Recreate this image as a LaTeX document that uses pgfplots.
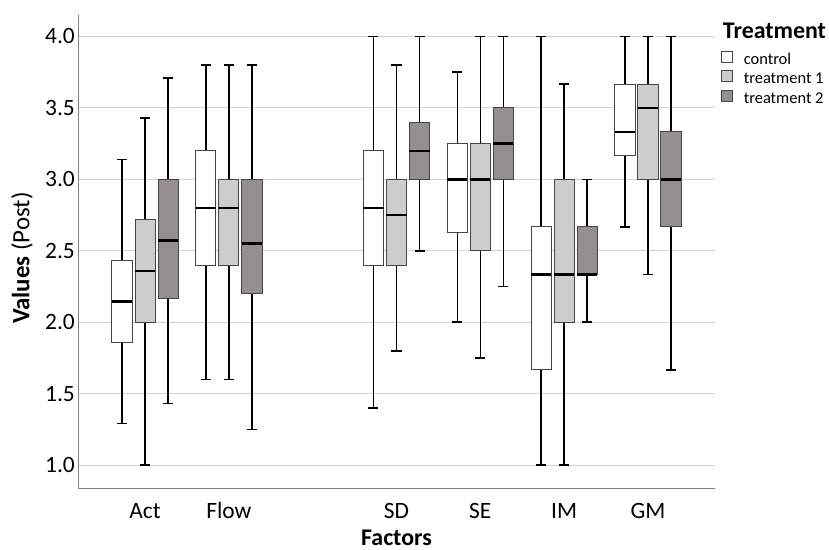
\documentclass[border=0pt]{standalone}
\usepackage{fontspec}
\setmainfont{Carlito}
\usepackage{pgfplots}
\usepgfplotslibrary{statistics}
\pgfplotsset{compat=1.18}
\definecolor{tone}{RGB}{205,205,205}
\definecolor{ttwo}{RGB}{150,143,143}
\definecolor{boxedge}{RGB}{70,70,70}
\definecolor{gridc}{RGB}{212,212,212}
\definecolor{axisc}{RGB}{128,128,128}
% \bx{style}{position}{lower whisker}{lower quartile}{median}{upper quartile}{upper whisker}
\newcommand{\bx}[7]{\addplot[forget plot, #1, boxplot prepared={draw direction=y, draw position=#2, lower whisker=#3, lower quartile=#4, median=#5, upper quartile=#6, upper whisker=#7}] coordinates {};}
\begin{document}
\begin{tikzpicture}
\useasboundingbox (0,0) rectangle (829bp,-550bp);
\begin{axis}[
  name=main,
  at={(78bp,-488bp)}, anchor=south west,
  scale only axis, width=637bp, height=473bp,
  xmin=-0.8, xmax=6.8, ymin=0.84, ymax=4.15,
  clip=false,
  axis x line=bottom, axis y line=left,
  axis line style={-, draw=axisc, line width=1bp},
  xtick={0,1,3,4,5,6},
  xticklabels={Act,Flow,SD,SE,IM,GM},
  ytick={1,1.5,2,2.5,3,3.5,4},
  major tick length=0pt,
  /pgf/number format/assume math mode=true,
  yticklabel style={/pgf/number format/fixed, /pgf/number format/fixed zerofill, /pgf/number format/precision=1, anchor=east, inner sep=0pt, xshift=-3bp},
  xticklabel style={anchor=north, inner sep=0pt, text height=15bp, text depth=0pt, yshift=-15bp},
  tick label style={font=\fontsize{23.5}{24}\selectfont},
  ymajorgrids, grid style={draw=gridc, line width=1.2bp},
  boxplot/box extend=0.24,
  boxplot/whisker extend=0.12,
  boxplot/every box/.style={draw=boxedge, line width=0.9bp},
  boxplot/every whisker/.style={draw=black, line width=1.5bp},
  boxplot/every median/.style={draw=black, line width=2.5bp},
  ctrl/.style={draw=boxedge, fill=white},
  tA/.style={draw=boxedge, fill=tone},
  tB/.style={draw=boxedge, fill=ttwo},
  legend image code/.code={\draw[#1, line width=0.8bp] (0bp,-2bp) rectangle (11bp,9bp);},
  legend style={at={(axis description cs:1.0094,0.9239)}, anchor=north west, draw=none, fill=none,
    inner sep=0pt, outer sep=0pt, row sep=2bp, column sep=11bp,
    nodes={inner sep=0pt, text height=12bp, text depth=4bp},
    cells={anchor=west},
    font=\fontsize{16.5}{17}\selectfont},
]
% Act
\bx{ctrl}{-0.275}{1.29}{1.86}{2.145}{2.43}{3.14}
\bx{tA}{0}{1.0}{2.0}{2.357}{2.717}{3.43}
\bx{tB}{0.275}{1.43}{2.166}{2.572}{3.0}{3.71}
% Flow
\bx{ctrl}{0.725}{1.6}{2.4}{2.8}{3.2}{3.8}
\bx{tA}{1}{1.6}{2.4}{2.8}{3.0}{3.8}
\bx{tB}{1.275}{1.25}{2.2}{2.55}{3.0}{3.8}
% SD
\bx{ctrl}{2.725}{1.4}{2.4}{2.8}{3.2}{4.0}
\bx{tA}{3}{1.8}{2.4}{2.75}{3.0}{3.8}
\bx{tB}{3.275}{2.5}{3.0}{3.2}{3.4}{4.0}
% SE
\bx{ctrl}{3.725}{2.0}{2.625}{3.0}{3.25}{3.75}
\bx{tA}{4}{1.75}{2.5}{3.0}{3.25}{4.0}
\bx{tB}{4.275}{2.25}{3.0}{3.25}{3.5}{4.0}
% IM
\bx{ctrl}{4.725}{1.0}{1.667}{2.333}{2.667}{4.0}
\bx{tA}{5}{1.0}{2.0}{2.333}{3.0}{3.667}
\bx{tB}{5.275}{2.0}{2.333}{2.333}{2.667}{3.0}
% GM
\bx{ctrl}{5.725}{2.667}{3.167}{3.333}{3.667}{4.0}
\bx{tA}{6}{2.333}{3.0}{3.5}{3.667}{4.0}
\bx{tB}{6.275}{1.667}{2.667}{3.0}{3.333}{4.0}
\addlegendimage{draw=boxedge, fill=white}
\addlegendentry{control}
\addlegendimage{draw=boxedge, fill=tone}
\addlegendentry{treatment 1}
\addlegendimage{draw=boxedge, fill=ttwo}
\addlegendentry{treatment 2}
\end{axis}
\node[anchor=base west, inner sep=0pt, font=\bfseries\fontsize{24}{24}\selectfont] at (722.7bp,-38bp) {Treatment};
\node[rotate=90, inner sep=0pt, font=\fontsize{25}{25}\selectfont] at (22bp,-258bp) {\textbf{Values} (Post)};
\node[anchor=base, inner sep=0pt, font=\bfseries\fontsize{24}{24}\selectfont] at (396.5bp,-545bp) {Factors};
\end{tikzpicture}
\end{document}
